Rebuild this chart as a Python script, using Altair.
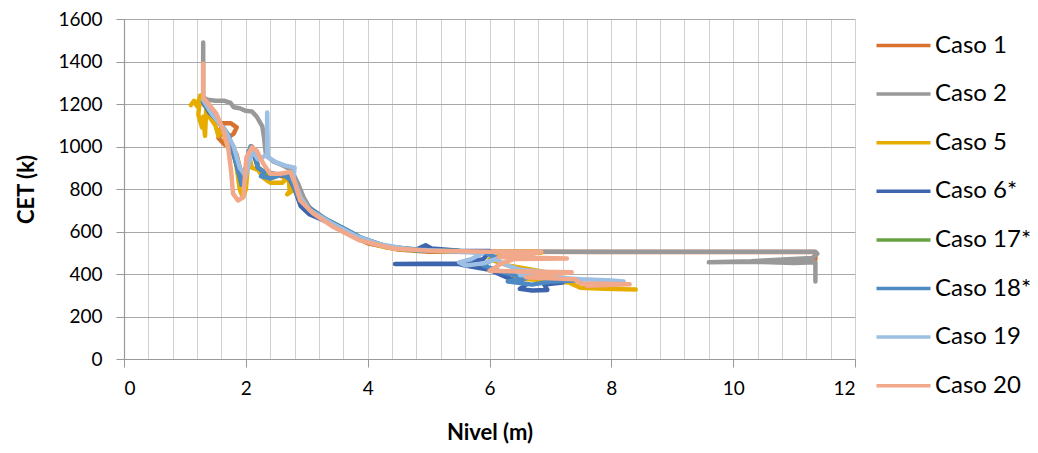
import altair as alt
import pandas as pd

series_names = ["Caso 1", "Caso 2", "Caso 5", "Caso 6*", "Caso 17*", "Caso 18*", "Caso 19", "Caso 20"]
series_colors = ["#D9712F", "#999999", "#E6AD00", "#3D64AD", "#69A242", "#4D8AC4", "#9CBFE3", "#F2A88A"]

caso1_x = [1.3, 1.4, 1.5, 1.6, 1.75, 1.85, 1.8, 1.7, 1.6, 1.55, 1.65, 1.8, 1.85, 1.9, 1.95, 2.0, 2.05, 2.1, 2.15, 2.2, 2.3, 2.45, 2.6, 2.75, 2.85, 3.0, 3.3, 3.6, 4.0, 4.5, 5.0, 8.0, 11.35, 11.35, 10.9]
caso1_y = [1200, 1170, 1120, 1110, 1110, 1090, 1060, 1040, 1070, 1040, 1010, 990, 960, 900, 850, 880, 960, 1000, 960, 900, 880, 870, 860, 840, 780, 720, 660, 600, 545, 515, 505, 503, 503, 468, 465]

caso2_x = [1.3, 1.3, 1.38, 1.5, 1.65, 1.75, 1.8, 1.9, 2.0, 2.1, 2.18, 2.27, 2.3, 2.33, 2.45, 2.6, 2.75, 2.85, 2.95, 3.05, 3.3, 3.7, 4.1, 4.6, 5.2, 6.5, 11.35, 11.38, 11.3, 10.9, 10.5, 10.3, 9.6, 10.3, 11.0, 11.35, 11.35]
caso2_y = [1490, 1230, 1220, 1215, 1215, 1205, 1185, 1180, 1168, 1165, 1140, 1095, 1040, 960, 930, 912, 890, 830, 760, 710, 655, 585, 540, 515, 507, 505, 505, 495, 475, 470, 463, 460, 455, 458, 452, 455, 365]

caso5_x = [1.1, 1.15, 1.2, 1.25, 1.22, 1.28, 1.3, 1.33, 1.35, 1.4, 1.5, 1.55, 1.6, 1.7, 1.75, 1.8, 1.85, 1.9, 1.95, 2.0, 2.05, 2.1, 2.2, 2.3, 2.4, 2.6, 2.7, 2.72, 2.68, 2.8, 2.9, 3.0, 3.3, 3.6, 3.9, 4.3, 4.8, 5.5, 6.8, 6.85, 6.5, 6.2, 6.0, 6.3, 6.7, 6.9, 6.5, 6.4, 6.9, 7.3, 7.5, 7.9, 8.4]
caso5_y = [1195, 1215, 1190, 1240, 1150, 1090, 1140, 1050, 1180, 1140, 1100, 1050, 1090, 1000, 980, 1000, 900, 800, 760, 800, 960, 900, 890, 850, 830, 830, 860, 790, 775, 800, 760, 710, 650, 600, 560, 525, 510, 505, 505, 500, 498, 490, 470, 440, 420, 410, 395, 380, 370, 360, 335, 330, 327]

caso6_x = [1.3, 1.4, 1.55, 1.7, 1.8, 1.88, 1.95, 2.0, 2.05, 2.1, 2.2, 2.3, 2.5, 2.7, 2.8, 2.9, 3.05, 3.3, 3.6, 3.9, 4.3, 4.8, 4.95, 5.05, 5.5, 6.0, 5.9, 5.5, 4.45, 5.5, 5.6, 6.0, 6.2, 6.4, 6.6, 6.5, 6.7, 6.95, 6.9, 7.2]
caso6_y = [1210, 1160, 1120, 1040, 960, 880, 840, 880, 980, 990, 900, 880, 870, 860, 800, 720, 680, 650, 610, 565, 530, 515, 535, 520, 510, 508, 470, 450, 447, 447, 440, 420, 395, 370, 350, 330, 322, 325, 350, 360]

caso17_x = [1.3, 1.45, 1.6, 1.72, 1.8, 1.88, 1.93, 2.0, 2.08, 2.15, 2.2, 2.3, 2.4, 2.6, 2.75, 2.85, 3.0, 3.3, 3.6, 3.9, 4.3, 4.8, 5.5]
caso17_y = [1210, 1150, 1100, 1050, 970, 880, 820, 900, 1000, 970, 900, 880, 850, 870, 840, 770, 720, 660, 615, 570, 530, 512, 508]

caso18_x = [1.3, 1.45, 1.6, 1.72, 1.8, 1.88, 1.93, 2.0, 2.08, 2.15, 2.2, 2.3, 2.25, 2.4, 2.6, 2.75, 2.85, 3.0, 3.3, 3.6, 3.9, 4.3, 4.8, 5.5, 5.9, 6.1, 5.9, 6.2, 6.4, 6.6, 6.3, 6.7, 7.0, 7.5]
caso18_y = [1210, 1150, 1100, 1050, 970, 880, 820, 900, 1000, 970, 900, 880, 860, 850, 870, 840, 770, 720, 660, 615, 570, 530, 512, 508, 500, 480, 440, 410, 395, 380, 365, 350, 365, 370]

caso19_x = [1.3, 1.45, 1.65, 1.8, 1.9, 2.0, 2.1, 2.2, 2.35, 2.35, 2.36, 2.5, 2.65, 2.8, 2.78, 2.9, 3.05, 3.4, 3.8, 4.2, 4.7, 5.5, 5.9, 5.7, 5.5, 5.6, 5.9, 6.1, 6.3, 6.5, 6.9, 6.5, 7.0, 7.5, 8.0, 8.2, 7.8]
caso19_y = [1220, 1150, 1080, 1000, 900, 860, 980, 940, 960, 1160, 950, 925, 910, 900, 850, 760, 700, 640, 580, 540, 515, 505, 500, 470, 455, 440, 450, 470, 440, 420, 410, 395, 385, 375, 370, 365, 360]

caso20_x = [1.3, 1.3, 1.36, 1.52, 1.63, 1.71, 1.76, 1.79, 1.87, 1.96, 2.01, 2.1, 2.18, 2.29, 2.4, 2.56, 2.73, 2.81, 2.89, 3.11, 3.44, 3.87, 4.42, 5.0, 6.0, 6.85, 6.7, 6.3, 6.15, 7.27, 6.4, 6.2, 6.0, 7.35, 7.0, 6.6, 7.4, 7.5, 8.3, 7.6]
caso20_y = [1390, 1230, 1210, 1153, 1075, 996, 880, 778, 746, 762, 950, 996, 980, 918, 872, 872, 880, 825, 746, 684, 621, 558, 520, 510, 505, 505, 495, 497, 480, 473, 470, 450, 415, 408, 395, 385, 375, 355, 352, 345]

all_x = [caso1_x, caso2_x, caso5_x, caso6_x, caso17_x, caso18_x, caso19_x, caso20_x]
all_y = [caso1_y, caso2_y, caso5_y, caso6_y, caso17_y, caso18_y, caso19_y, caso20_y]

rows = []
for name, xs, ys in zip(series_names, all_x, all_y):
    for i, (xv, yv) in enumerate(zip(xs, ys)):
        rows.append({"Caso": name, "i": i, "x": xv, "y": yv})
df = pd.DataFrame(rows)

x_grid_values = [round(0.4 * k, 1) for k in range(31)]
y_values = list(range(0, 1601, 200))

FONT = "Lato"
MAJOR = "abs(datum.value / 2 - round(datum.value / 2)) < 0.001"

chart = alt.Chart(df).mark_line(strokeWidth=4.5, strokeCap="round", strokeJoin="round").encode(
    x=alt.X("x:Q",
            scale=alt.Scale(domain=[0, 12], nice=False, zero=False),
            axis=alt.Axis(values=x_grid_values,
                          labelExpr=MAJOR + " ? format(datum.value, 'd') : ''",
                          title="Nivel (m)",
                          gridColor="#D0D0D0",
                          tickColor={"condition": {"test": MAJOR, "value": "#999999"}, "value": "transparent"},
                          tickSize=8, labelPadding=12, titlePadding=24,
                          domainColor="#999999")),
    y=alt.Y("y:Q",
            scale=alt.Scale(domain=[0, 1600], nice=False),
            axis=alt.Axis(values=y_values, format="d", title="CET (k)", gridColor="#A8A8A8",
                          tickColor="#999999", tickSize=8, labelPadding=14,
                          titlePadding=19, domainColor="#999999")),
    color=alt.Color("Caso:N",
                    scale=alt.Scale(domain=series_names, range=series_colors),
                    sort=series_names,
                    legend=alt.Legend(title=None, orient="none", legendX=755, legendY=2,
                                      symbolType="M-1.2,0H1.2", symbolSize=2025,
                                      symbolStrokeWidth=3.5, labelOffset=7, rowPadding=11.6,
                                      padding=0, labelFontSize=24, labelFont=FONT,
                                      labelColor="#000000", labelLimit=200)),
    order=alt.Order("i:Q"),
).properties(
    width=731, height=340,
    autosize=alt.AutoSizeParams(type="none"),
    padding={"left": 116, "top": 11, "right": 175, "bottom": 86},
).configure_view(stroke=None).configure_axis(
    labelFont=FONT, titleFont=FONT, labelFontSize=19, titleFontSize=22,
    labelColor="#000000", titleColor="#000000", titleFontWeight="bold",
    gridWidth=1, domainWidth=1.2, labelFontWeight="normal", labelOverlap=False,
)

chart.save("out.html", embed_options={"renderer": "svg", "actions": False})
